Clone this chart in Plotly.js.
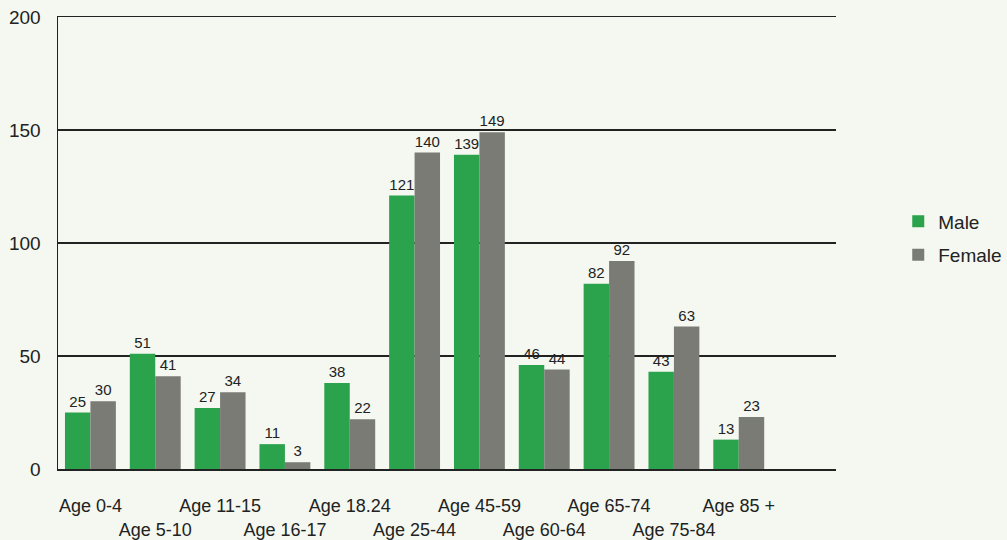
<!DOCTYPE html>
<html>
<head>
<meta charset="utf-8">
<script src="https://cdn.plot.ly/plotly-3.0.1.min.js"></script>
<style>html,body{margin:0;padding:0;background:#f4f8f0;}#chart{width:1007px;height:540px;}</style>
</head>
<body>
<div id="chart"></div>
<script>
const categories = ["Age 0-4","Age 5-10","Age 11-15","Age 16-17","Age 18.24","Age 25-44","Age 45-59","Age 60-64","Age 65-74","Age 75-84","Age 85 +"];
const maleValues = [25, 51, 27, 11, 38, 121, 139, 46, 82, 43, 13];
const femaleValues = [30, 41, 34, 3, 22, 140, 149, 44, 92, 63, 23];
const tickLabels = categories.map((c, i) => i % 2 === 0 ? c + "<br> " : " <br>" + c);

const textFont = {family: "Liberation Sans, Arial, sans-serif", size: 15, color: "#222"};
const traces = [
  {type: "bar", name: "Male", legendgroup: "m", x: categories, y: maleValues, text: maleValues.map(String),
   textposition: "outside", textfont: textFont, cliponaxis: false,
   marker: {color: "#2ba24c"}},
  {type: "bar", name: "Female", legendgroup: "f", x: categories, y: femaleValues, text: femaleValues.map(String),
   textposition: "outside", textfont: textFont, cliponaxis: false,
   marker: {color: "#7b7b76"}}
];
const layout = {
  width: 1007, height: 540,
  margin: {l: 58, r: 171, t: 17, b: 71, autoexpand: false},
  paper_bgcolor: "#f4f8f0", plot_bgcolor: "rgba(0,0,0,0)",
  font: {family: "Liberation Sans, Arial, sans-serif", size: 18, color: "#222"},
  barmode: "group", bargap: 0.215, bargroupgap: 0,
  xaxis: {
    type: "category", range: [-0.5, 11.5],
    tickmode: "array", tickvals: categories, ticktext: tickLabels, tickangle: 0,
    showline: true, linecolor: "#222", linewidth: 1.5, mirror: true,
    showgrid: false, ticks: "", ticklabelstandoff: 20,
    tickfont: {size: 18, color: "#222"}
  },
  yaxis: {
    range: [0, 200], tickvals: [0, 50, 100, 150, 200],
    showline: true, linecolor: "#222", linewidth: 1.5,
    showgrid: true, gridcolor: "#222", gridwidth: 1.2,
    zeroline: false, ticks: "", ticklabelstandoff: 12,
    tickfont: {size: 19, color: "#222"}
  },
  showlegend: true,
  legend: {x: 1.08, y: 0.59, xanchor: "left", yanchor: "top",
    bgcolor: "rgba(0,0,0,0)", font: {size: 19, color: "#222"},
    itemwidth: 30, tracegroupgap: 6}
};
Plotly.newPlot("chart", traces, layout, {displayModeBar: false, staticPlot: true});
</script>
</body>
</html>
